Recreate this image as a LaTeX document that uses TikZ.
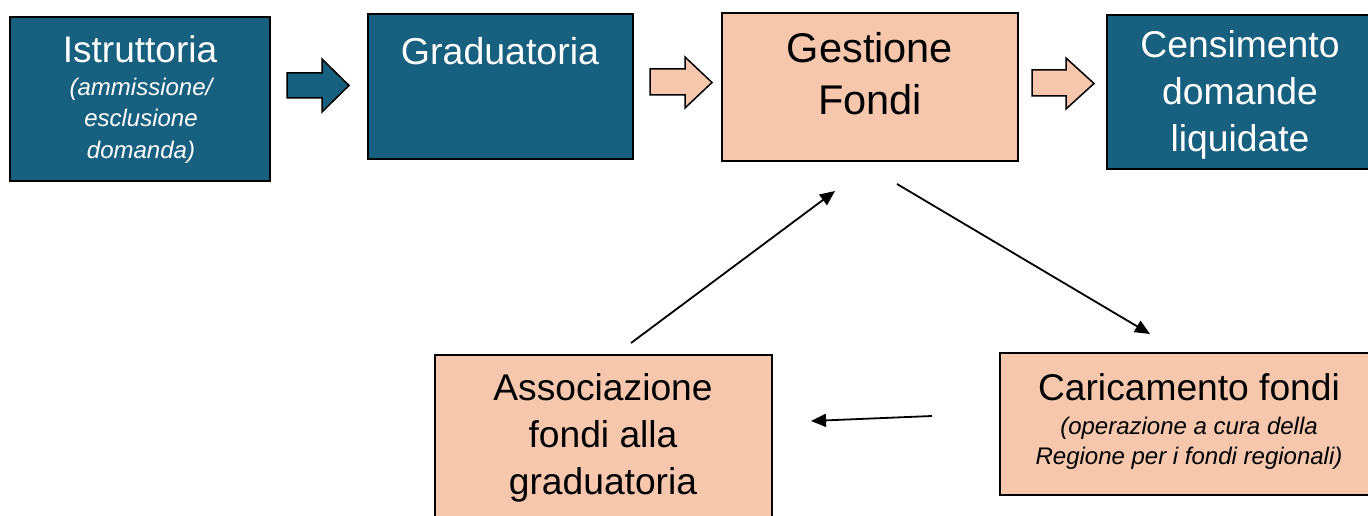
\documentclass[tikz,border=0pt]{standalone}
\usepackage{fontspec}
\setmainfont{Liberation Sans}
\usetikzlibrary{arrows.meta}
\definecolor{dblue}{HTML}{17607F}
\definecolor{peach}{HTML}{F6C6AD}
\tikzset{
  box/.style={draw=black, line width=1.5pt},
  bluebox/.style={box, fill=dblue},
  peachbox/.style={box, fill=peach},
  lbl/.style={inner sep=0pt, align=center},
  wtxt/.style={lbl, text=white},
  btxt/.style={lbl, text=black},
  blockarrow/.style={draw=black, line width=1.5pt, line join=miter},
  conn/.style={line width=1.8pt, -{Triangle[length=15pt,width=13pt]}},
}
\newcommand{\fs}[1]{\fontsize{#1}{1.22\dimexpr#1pt\relax}\selectfont}
\begin{document}
\begin{tikzpicture}[x=1pt,y=-1pt]
\useasboundingbox (0,0) rectangle (1368,516);
\fill[white] (0,0) rectangle (1368,516);
% boxes
\draw[bluebox] (10,17) rectangle (270,181);
\draw[bluebox] (368,14) rectangle (633,159);
\draw[peachbox] (722,13) rectangle (1018,161);
\draw[bluebox] (1107,15) rectangle (1380,169);
\draw[peachbox] (435,355) rectangle (772,530);
\draw[peachbox] (1000,353) rectangle (1380,495);
% texts
\node[wtxt, anchor=base, font=\fs{37}] (istr) at (140,63) {Istruttoria};
\node[wtxt, anchor=base, font=\fs{24}\itshape] (istrsub) at (141,96) {(ammissione/};
\node[wtxt, anchor=base, font=\fs{24}\itshape] (istrsub2) at (141,127) {esclusione};
\node[wtxt, anchor=base, font=\fs{24}\itshape] (istrsub3) at (141,158) {domanda)};
\node[wtxt, anchor=base, font=\fs{37.5}] (grad) at (500,65) {Graduatoria};
\node[btxt, anchor=base, font=\fs{41.5}] (gest1) at (870,63) {Gestione};
\node[btxt, anchor=base, font=\fs{41.5}] (gest2) at (870,115) {Fondi};
\node[wtxt, anchor=base, font=\fs{37.3}] (cens1) at (1240,58) {Censimento};
\node[wtxt, anchor=base, font=\fs{37.3}] (cens2) at (1240,105) {domande};
\node[wtxt, anchor=base, font=\fs{37.3}] (cens3) at (1240,152) {liquidate};
\node[btxt, anchor=base, font=\fs{37.2}] (ass1) at (603,400) {Associazione};
\node[btxt, anchor=base, font=\fs{37.2}] (ass2) at (603,447) {fondi alla};
\node[btxt, anchor=base, font=\fs{37.2}] (ass3) at (603,494) {graduatoria};
\node[btxt, anchor=base, font=\fs{37.2}] (car1) at (1189,400) {Caricamento fondi};
\node[btxt, anchor=base, font=\fs{24}\itshape] (car2) at (1189,434) {(operazione a cura della};
\node[btxt, anchor=base, font=\fs{24}\itshape] (car3) at (1189,464) {Regione per i fondi regionali)};
% block arrows
\draw[blockarrow, fill=dblue] (287,73) -- (322,73) -- (322,59) -- (349,85.5) -- (322,112) -- (322,98) -- (287,98) -- cycle;
\draw[blockarrow, fill=peach] (650,69) -- (685,69) -- (685,57) -- (712,82.5) -- (685,108) -- (685,95) -- (650,95) -- cycle;
\draw[blockarrow, fill=peach] (1032,70) -- (1066,70) -- (1066,58) -- (1094,83.5) -- (1066,109) -- (1066,96) -- (1032,96) -- cycle;
% connectors
\coordinate (a1s) at (631,343);
\coordinate (a1e) at (835,191);
\coordinate (a2s) at (897,184);
\coordinate (a2e) at (1150,334);
\coordinate (a3s) at (932,416);
\coordinate (a3e) at (811,421);
\draw[conn] (a1s) -- (a1e);
\draw[conn] (a2s) -- (a2e);
\draw[conn] (a3s) -- (a3e);
\end{tikzpicture}
\end{document}
